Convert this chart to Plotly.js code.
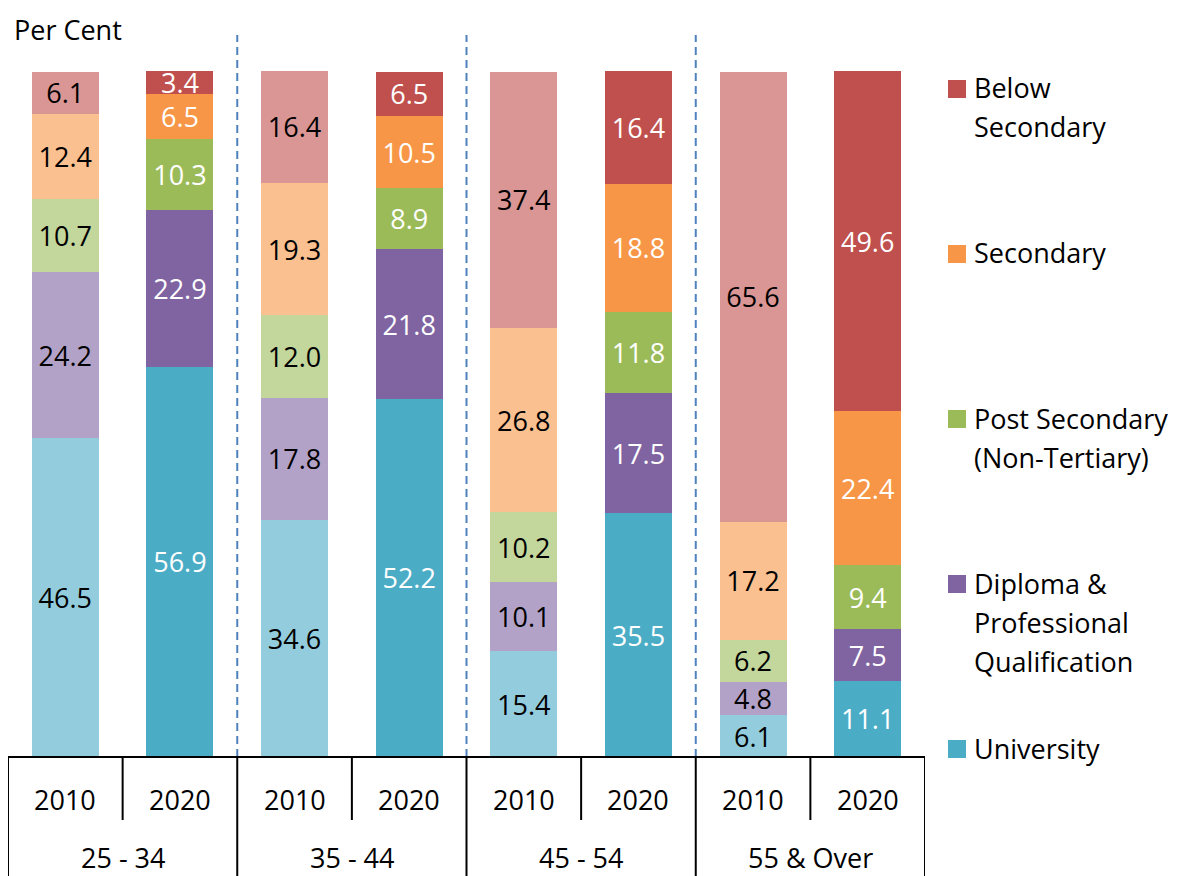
<!DOCTYPE html>
<html>
<head>
<meta charset="utf-8">
<script src="https://cdn.plot.ly/plotly-3.0.1.min.js"></script>
<style>html,body{margin:0;padding:0;background:#fff;}#chart{width:1181px;height:876px;}</style>
</head>
<body>
<div id="chart"></div>
<script>
// ---- data ----
const ageGroups = ['25 - 34', '35 - 44', '45 - 54', '55 & Over'];
const years = ['2010', '2020'];
const seriesNames = ['University', 'Diploma &<br>Professional<br>Qualification', 'Post Secondary<br>(Non-Tertiary)', 'Secondary', 'Below<br>Secondary'];
const university     = [46.5, 56.9, 34.6, 52.2, 15.4, 35.5, 6.1, 11.1];
const diploma        = [24.2, 22.9, 17.8, 21.8, 10.1, 17.5, 4.8, 7.5];
const postSecondary  = [10.7, 10.3, 12.0, 8.9, 10.2, 11.8, 6.2, 9.4];
const secondary      = [12.4, 6.5, 19.3, 10.5, 26.8, 18.8, 17.2, 22.4];
const belowSecondary = [6.1, 3.4, 16.4, 6.5, 37.4, 16.4, 65.6, 49.6];
const yAxisLabel = 'Per Cent';

// ---- style ----
const FONT = 'Open Sans, Noto Sans, sans-serif';
const FS = 27;
const darkColors  = ['#4BACC6', '#8064A2', '#9BBB59', '#F79646', '#C0504D'];
const lightColors = ['#93CDDD', '#B3A2C7', '#C3D69B', '#FAC090', '#D99694'];
const W = 1181, H = 876;
const L = 8, R = 925, T = 71, B = 757;
const px2x = p => (p - L) / (R - L);
const px2y = p => (B - p) / (B - T);

const allSeries = [university, diploma, postSecondary, secondary, belowSecondary];
const nBars = ageGroups.length * years.length;
const xIdx = [];
for (let i = 0; i < nBars; i++) xIdx.push(i);

const traces = allSeries.map((vals, s) => ({
  type: 'bar',
  x: xIdx,
  y: vals,
  name: seriesNames[s],
  text: vals.map(v => v.toFixed(1)),
  textposition: 'inside',
  insidetextanchor: 'middle',
  textangle: 0,
  constraintext: 'none',
  textfont: {family: FONT, size: FS, color: xIdx.map(i => (i % 2 === 0 ? '#000000' : '#FFFFFF'))},
  marker: {color: xIdx.map(i => (i % 2 === 0 ? lightColors[s] : darkColors[s])), line: {width: 0}},
  hoverinfo: 'skip',
  showlegend: false
}));

const shapes = [];
const annotations = [];
// dashed separators between age groups
for (let g = 1; g < ageGroups.length; g++) {
  const xb = g * years.length - 0.5;
  shapes.push({type: 'line', xref: 'x', yref: 'paper', x0: xb, x1: xb, y0: 0, y1: px2y(35),
    line: {color: '#4F81BD', width: 2, dash: '8px,5px'}});
}
// table lines
shapes.push({type: 'line', xref: 'x', yref: 'paper', x0: -0.5, x1: nBars - 0.5, y0: 0, y1: 0, line: {color: '#000', width: 2}});
for (let g = 0; g <= ageGroups.length; g++) {
  const xb = g * years.length - 0.5;
  shapes.push({type: 'line', xref: 'x', yref: 'paper', x0: xb, x1: xb, y0: 0, y1: px2y(880), line: {color: '#000', width: 2}});
}
for (let g = 0; g < ageGroups.length; g++) {
  const xb = g * years.length + 0.5;
  shapes.push({type: 'line', xref: 'x', yref: 'paper', x0: xb, x1: xb, y0: 0, y1: px2y(820), line: {color: '#000', width: 2}});
}
// year labels and group labels
xIdx.forEach(i => {
  annotations.push({xref: 'x', yref: 'paper', x: i, y: px2y(800), text: years[i % years.length],
    showarrow: false, xanchor: 'center', yanchor: 'middle', font: {family: FONT, size: FS, color: '#000'}});
});
ageGroups.forEach((g, k) => {
  annotations.push({xref: 'x', yref: 'paper', x: k * years.length + (years.length - 1) / 2, y: px2y(857), text: g,
    showarrow: false, xanchor: 'center', yanchor: 'middle', font: {family: FONT, size: FS, color: '#000'}});
});
// y label
annotations.push({xref: 'paper', yref: 'paper', x: px2x(12), y: px2y(30), text: yAxisLabel, showarrow: false,
  xanchor: 'left', yanchor: 'middle', font: {family: FONT, size: FS, color: '#000'}});

// custom legend (top to bottom: Below Secondary ... University)
const legendOrder = [4, 3, 2, 1, 0];
legendOrder.forEach((s, k) => {
  const yc = 88 + 165 * k;
  shapes.push({type: 'rect', xref: 'paper', yref: 'paper', x0: px2x(948), x1: px2x(966), y0: px2y(yc + 10), y1: px2y(yc - 8),
    fillcolor: darkColors[s], line: {width: 0}});
  seriesNames[s].split('<br>').forEach((line, j) => {
    annotations.push({xref: 'paper', yref: 'paper', x: px2x(972), y: px2y(yc + 39 * j), text: line, showarrow: false,
      xanchor: 'left', yanchor: 'middle', font: {family: FONT, size: FS, color: '#000'}});
  });
});

const layout = {
  width: W, height: H,
  margin: {l: L, r: W - R, t: T, b: H - B, pad: 0},
  paper_bgcolor: '#fff', plot_bgcolor: '#fff',
  barmode: 'stack', bargap: 0.415,
  uniformtext: {mode: 'show', minsize: FS},
  xaxis: {range: [-0.5, nBars - 0.5], visible: false, fixedrange: true},
  yaxis: {range: [0, 100], visible: false, fixedrange: true},
  shapes: shapes, annotations: annotations,
  showlegend: false,
  font: {family: FONT, size: FS}
};

Plotly.newPlot('chart', traces, layout, {staticPlot: true, displayModeBar: false});
</script>
</body>
</html>
